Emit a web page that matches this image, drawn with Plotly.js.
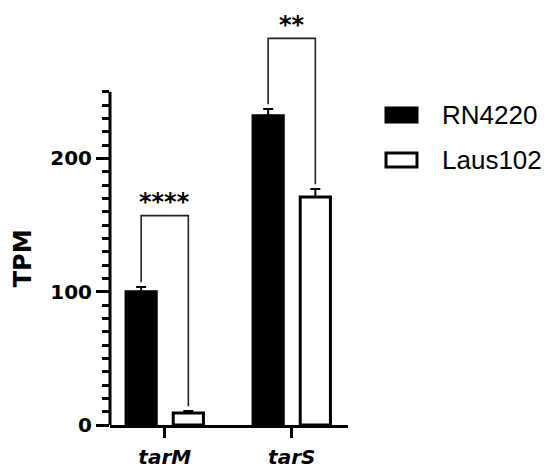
<!DOCTYPE html>
<html>
<head>
<meta charset="utf-8">
<script src="https://cdn.plot.ly/plotly-3.0.1.min.js"></script>
<style>
  body { margin: 0; background: #fff; }
  #chart { width: 550px; height: 474px; }
</style>
</head>
<body>
<div id="chart"></div>
<script>
const genes = ["tarM", "tarS"];
const rn4220 = [100, 232];
const rn4220Err = [3.5, 5];
const laus102 = [9, 171];
const laus102Err = [1.5, 6];
const stars = ["****", "**"];
const bracketTop = [157, 290];

const bargap = 0.257;
const half = (1 - bargap) / 4;   // distance from category centre to each bar centre
const legGap = 3.5;

let shapes = [];
let annotations = [];

// y axis line stops at 250
shapes.push({type: "line", xref: "paper", yref: "y", x0: 0, x1: 0, y0: 0, y1: 250,
    line: {color: "#000", width: 3}});

// axis title centred on the drawn part of the axis
annotations.push({xref: "paper", yref: "y", x: (23 - 110) / 238, y: 125, text: "TPM",
    textangle: -90, showarrow: false, xanchor: "center", yanchor: "middle",
    font: {family: "DejaVu Sans", size: 24, color: "#000", weight: "bold"}});

for (let i = 0; i < genes.length; i++) {
    let xl = i - half;
    let xr = i + half;
    let yl = rn4220[i] + rn4220Err[i] + legGap;
    let yr = laus102[i] + laus102Err[i] + legGap;
    let top = bracketTop[i];
    shapes.push({type: "path", xref: "x", yref: "y",
        path: `M${xl},${yl} L${xl},${top} L${xr},${top} L${xr},${yr}`,
        line: {color: "#222", width: 1.6}});
    annotations.push({x: i, y: top + 10, xref: "x", yref: "y", text: stars[i],
        showarrow: false, yanchor: "middle",
        font: {family: "DejaVu Sans", size: 24, color: "#000", weight: "bold"}});
}

// legend drawn by hand so the swatches match the original size
const legendNames = ["RN4220", "Laus102"];
const legendFill = ["#000", "#fff"];
for (let k = 0; k < legendNames.length; k++) {
    let cy = k === 0 ? 115 : 160;
    shapes.push({type: "rect", xref: "paper", yref: "paper",
        x0: (386 - 110) / 238, x1: (417 - 110) / 238,
        y0: (425 - (cy + 7)) / 420, y1: (425 - (cy - 7)) / 420,
        fillcolor: legendFill[k], line: {color: "#000", width: 3}});
    annotations.push({xref: "paper", yref: "paper", x: (440 - 110) / 238, y: (425 - cy) / 420,
        xanchor: "left", yanchor: "middle", text: legendNames[k], showarrow: false,
        font: {family: "Liberation Sans, Arial", size: 26, color: "#000"}});
}

let minorVals = [];
for (let v = 10; v <= 250; v += 10) {
    if (v % 100 !== 0) minorVals.push(v);
}

const traces = [
    {type: "bar", name: "RN4220", x: genes, y: rn4220,
        marker: {color: "#000", line: {color: "#000", width: 3}},
        error_y: {type: "data", array: rn4220Err, arrayminus: [0, 0], color: "#000", thickness: 2, width: 5}},
    {type: "bar", name: "Laus102", x: genes, y: laus102,
        marker: {color: "#fff", line: {color: "#000", width: 3}},
        error_y: {type: "data", array: laus102Err, arrayminus: [0, 0], color: "#000", thickness: 2, width: 5}}
];

Plotly.newPlot("chart", traces, {
    width: 550,
    height: 474,
    margin: {l: 110, r: 202, t: 5, b: 49},
    barmode: "group",
    bargap: bargap,
    bargroupgap: 0.36,
    showlegend: false,
    plot_bgcolor: "#fff",
    paper_bgcolor: "#fff",
    xaxis: {
        range: [-0.431, 1.443],
        showline: true, linecolor: "#000", linewidth: 3,
        ticks: "outside", ticklen: 10, tickwidth: 3, tickcolor: "#000",
        showgrid: false, zeroline: false,
        ticklabelstandoff: 2,
        tickfont: {family: "DejaVu Sans", size: 20, color: "#000", weight: "bold", style: "italic"}
    },
    yaxis: {
        range: [0, 315],
        showline: false, showgrid: false, zeroline: false,
        tickmode: "array", tickvals: [0, 100, 200],
        ticks: "outside", ticklen: 13, tickwidth: 3, tickcolor: "#000",
        minor: {tickmode: "array", tickvals: minorVals, ticks: "outside", ticklen: 7, tickwidth: 3, tickcolor: "#000"},
        tickfont: {family: "DejaVu Sans", size: 20, color: "#000", weight: "bold"}
    },
    shapes: shapes,
    annotations: annotations
}, {displayModeBar: false, staticPlot: true});
</script>
</body>
</html>
